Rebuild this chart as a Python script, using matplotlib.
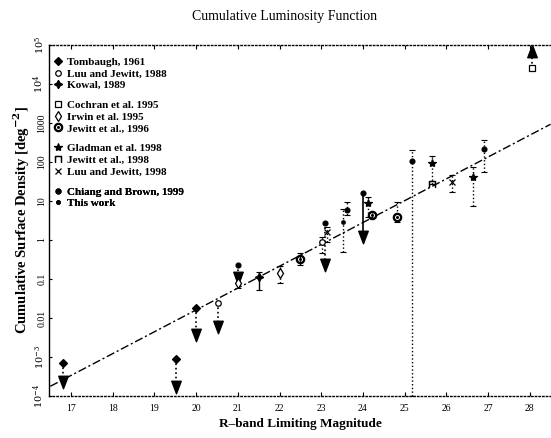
import numpy as np
import matplotlib
matplotlib.use("Agg")
import matplotlib.pyplot as plt
from matplotlib.lines import Line2D
from matplotlib.path import Path

plt.rcParams['font.family'] = ['Liberation Serif', 'DejaVu Serif']
plt.rcParams['mathtext.fontset'] = 'dejavuserif'

# ---------------- data ----------------
x_ticks = [17, 18, 19, 20, 21, 22, 23, 24, 25, 26, 27, 28]
y_ticks = [1e-4, 1e-3, 1e-2, 1e-1, 1, 10, 100, 1000, 1e4, 1e5]
y_ticklabels = [r'$10^{-4}$', r'$10^{-3}$', '0.01', '0.1', '1', '10', '100', '1000',
                r'$10^{4}$', r'$10^{5}$']

# fitted power law: log10(S) = alpha * (R - R0)
fit_alpha = 0.56
fit_R0 = 23.2
fit_range = [16.5, 28.5]

# upper limits (downward arrows): magnitude, limit value, arrow end
tomb_R = [16.80, 19.51, 20.00]
tomb_S = [7.1e-4, 8.9e-4, 0.0178]
tomb_to = [2.3e-4, 1.74e-4, 3.6e-3]

luu88_lim_R = [20.52]
luu88_lim_S = [0.0245]
luu88_lim_to = [6.0e-3]

chiang_lim_R = [21.00, 23.09]
chiang_lim_S = [0.23, 2.75]
chiang_lim_to = [0.107, 0.23]

glad_lim_R = [24.00]
glad_lim_S = [15.8]
glad_lim_to = [1.2]

# lower limit (upward arrow)
coch_R = [28.05]
coch_S = [2.5e4]
coch_to = [7.0e4]

# measurements with error bars: value, lower end, upper end
kowal_R = [21.51]
kowal_S = [0.115]
kowal_lo = [0.052]
kowal_hi = [0.155]

irwin_R = [21.00, 22.01]
irwin_S = [0.078, 0.141]
irwin_lo = [0.058, 0.078]
irwin_hi = [0.105, 0.21]

jew96_R = [22.49, 24.21, 24.81]
jew96_S = [0.32, 4.4, 4.0]
jew96_lo = [0.23, 3.6, 2.95]
jew96_hi = [0.47, 5.2, 9.5]

luu88_R = [23.01]
luu88_S = [0.91]
luu88_lo = [0.46]
luu88_hi = [1.2]

luu98_R = [23.13, 26.13]
luu98_S = [1.62, 31.0]
luu98_lo = [0.91, 16.6]
luu98_hi = [2.2, 47.0]

this_R = [23.53]
this_S = [2.95]
this_lo = [0.5]
this_hi = [6.2]

glad_R = [24.13, 25.65, 26.65]
glad_S = [8.7, 93.0, 42.0]
glad_lo = [4.0, 28.0, 7.4]
glad_hi = [12.9, 141.0, 76.0]

jew98_R = [25.65]
jew98_S = [28.0]
jew98_lo = [28.0]
jew98_hi = [28.0]

chiang_R = [23.61, 25.17, 26.90]
chiang_S = [5.9, 107.0, 214.0]
chiang_lo = [4.5, 1e-4, 56.0]
chiang_hi = [9.5, 204.0, 363.0]

legend_labels = ['Tombaugh, 1961', 'Luu and Jewitt, 1988', 'Kowal, 1989',
                 'Cochran et al. 1995', 'Irwin et al. 1995', 'Jewitt et al., 1996',
                 'Gladman et al. 1998', 'Jewitt et al., 1998', 'Luu and Jewitt, 1998',
                 'Chiang and Brown, 1999', 'This work']

# ---------------- styles ----------------
STY = {
    'Tombaugh, 1961': dict(marker='D', ms=4, mfc='k'),
    'Luu and Jewitt, 1988': dict(marker='o', ms=4, mfc='white'),
    'Kowal, 1989': dict(marker=(4, 1, 0), ms=6, mfc='k'),
    'Cochran et al. 1995': dict(marker='s', ms=4, mfc='white'),
    'Irwin et al. 1995': dict(marker='d', ms=5, mfc='white'),
    'Jewitt et al., 1996': dict(marker='$\\odot$', ms=6, mfc='k'),
    'Gladman et al. 1998': dict(marker='*', ms=6, mfc='k'),
    'Jewitt et al., 1998': dict(marker='$\\sqcap$', ms=5, mfc='k'),
    'Luu and Jewitt, 1998': dict(marker='x', ms=4, mfc='k'),
    'Chiang and Brown, 1999': dict(marker='o', ms=3.5, mfc='k'),
    'This work': dict(marker='o', ms=2.5, mfc='k'),
}

TRI_DOWN = Path([(-0.38, 0.5), (0.38, 0.5), (0.0, -0.5), (-0.38, 0.5)],
                [Path.MOVETO, Path.LINETO, Path.LINETO, Path.CLOSEPOLY])
TRI_UP = Path([(-0.38, -0.5), (0.38, -0.5), (0.0, 0.5), (-0.38, -0.5)],
              [Path.MOVETO, Path.LINETO, Path.LINETO, Path.CLOSEPOLY])

fig = plt.figure(figsize=(5.51, 4.38), dpi=100)
ax = fig.add_axes([49/551, 42/438, 502/551, 351/438])
ax.set_yscale('log')
ax.set_xlim(16.47, 28.51)
ax.set_ylim(1e-4, 1e5)

# fit line
fr = np.array(fit_range)
ax.plot(fr, 10**(fit_alpha*(fr - fit_R0)), color='k', lw=1.0,
        linestyle=(0, (6, 2, 1.5, 2)), zorder=1)


def limits(R, S, to, label, solid=False, up=False):
    st = STY[label]
    ax.vlines(R, S, to, colors='k', linestyles='-' if solid else ':', lw=1.2, zorder=2)
    ax.plot(R, to, linestyle='none', marker=TRI_UP if up else TRI_DOWN, ms=9,
            color='k', zorder=3)
    ax.plot(R, S, linestyle='none', marker=st['marker'], ms=st['ms'],
            mfc=st['mfc'], mec='k', color='k', mew=0.9, zorder=4)


def meas(R, S, lo, hi, label, solid=False):
    st = STY[label]
    S = np.array(S)
    yerr = [S - np.array(lo), np.array(hi) - S]
    eb = ax.errorbar(R, S, yerr=yerr, fmt='none', ecolor='k', elinewidth=1.0,
                     capsize=2.5, capthick=0.8, zorder=2)
    if not solid:
        for lc in eb[2]:
            lc.set_linestyle(':')
    ax.plot(R, S, linestyle='none', marker=st['marker'], ms=st['ms'],
            mfc=st['mfc'], mec='k', color='k', mew=0.9, zorder=4)


limits(tomb_R, tomb_S, tomb_to, 'Tombaugh, 1961')
limits(luu88_lim_R, luu88_lim_S, luu88_lim_to, 'Luu and Jewitt, 1988')
limits(chiang_lim_R, chiang_lim_S, chiang_lim_to, 'Chiang and Brown, 1999')
limits(glad_lim_R, glad_lim_S, glad_lim_to, 'Chiang and Brown, 1999', solid=True)
limits(coch_R, coch_S, coch_to, 'Cochran et al. 1995', up=True)

meas(kowal_R, kowal_S, kowal_lo, kowal_hi, 'Kowal, 1989', solid=True)
meas(irwin_R, irwin_S, irwin_lo, irwin_hi, 'Irwin et al. 1995')
meas(jew96_R, jew96_S, jew96_lo, jew96_hi, 'Jewitt et al., 1996')
meas(luu88_R, luu88_S, luu88_lo, luu88_hi, 'Luu and Jewitt, 1988')
meas(luu98_R, luu98_S, luu98_lo, luu98_hi, 'Luu and Jewitt, 1998')
meas(this_R, this_S, this_lo, this_hi, 'This work')
meas(glad_R, glad_S, glad_lo, glad_hi, 'Gladman et al. 1998')
meas(jew98_R, jew98_S, jew98_lo, jew98_hi, 'Jewitt et al., 1998')
meas(chiang_R, chiang_S, chiang_lo, chiang_hi, 'Chiang and Brown, 1999')

# legend in groups
groups = [legend_labels[0:3], legend_labels[3:6], legend_labels[6:9], legend_labels[9:11]]
tops = [0.982, 0.859, 0.735, 0.612]
for g, top in zip(groups, tops):
    handles = [Line2D([], [], linestyle='none', color='k', mec='k', mew=0.9,
                      marker=STY[l]['marker'], ms=STY[l]['ms'], mfc=STY[l]['mfc'])
               for l in g]
    leg = ax.legend(handles, g, loc='upper left', bbox_to_anchor=(0.0, top),
                    frameon=False, handlelength=0.6, handletextpad=0.5,
                    labelspacing=0.18, borderaxespad=0.3, borderpad=0.2,
                    prop=dict(family='Liberation Serif', weight='bold', size=8))
    ax.add_artist(leg)

# axes styling
for side in ['top', 'bottom']:
    ax.spines[side].set_linestyle(':')
    ax.spines[side].set_linewidth(1.0)
ax.spines['left'].set_linewidth(1.0)
ax.spines['right'].set_visible(False)

ax.set_xticks(x_ticks)
ax.set_xticklabels([str(t) for t in x_ticks], fontsize=7)
ax.set_yticks(y_ticks)
ax.set_yticklabels(y_ticklabels, fontsize=7, rotation=90, va='center')
ax.minorticks_off()
ax.tick_params(axis='x', direction='in', top=True, length=3, width=0.8, pad=6)
ax.tick_params(axis='y', direction='in', length=2, width=0.8, pad=2)

ax.set_xlabel('R\u2013band Limiting Magnitude', fontsize=9.5, fontweight='bold', labelpad=3)
ax.set_ylabel('Cumulative Surface Density [deg$^{\\mathbf{-2}}$]', fontsize=10.5,
              fontweight='bold')
ax.yaxis.set_label_coords(-0.034, 0.5)
fig.text(0.517, 0.962, 'Cumulative Luminosity Function', ha='center', va='center',
         fontsize=10)

fig.savefig('out.png', dpi=100)
